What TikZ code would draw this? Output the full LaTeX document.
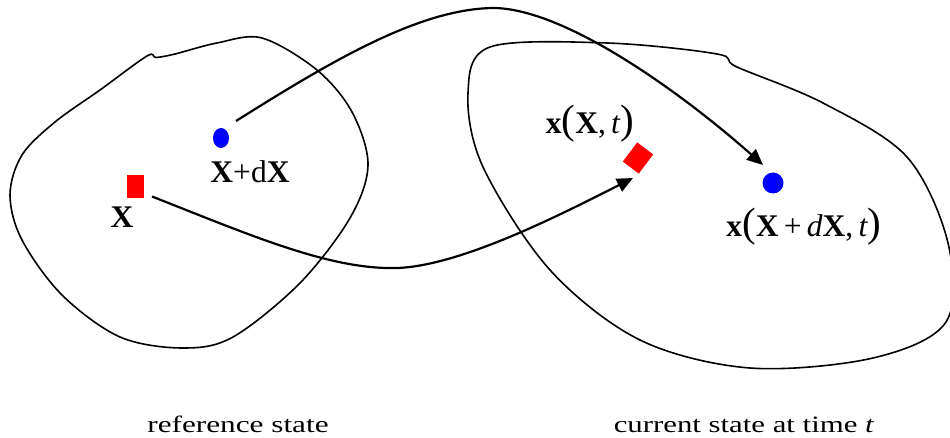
\documentclass[tikz,border=0pt]{standalone}
\usepackage{fontspec}
\usepackage{graphicx}
\setmainfont{Liberation Serif}
\usetikzlibrary{arrows.meta,calc,shapes.geometric}
\newcommand\bigpl{{\fontsize{41}{41}\selectfont(}}
\newcommand\bigpr{{\fontsize{41}{41}\selectfont)}}
\tikzset{
  blob/.style={draw=black, line width=1.6pt},
  arr/.style={draw=black, line width=2.2pt, -{Triangle[length=16pt,width=14pt]}},
  lbl/.style={inner sep=0pt, anchor=base, font=\fontsize{31.5}{36}\selectfont},
  captext/.style={inner sep=0pt, anchor=base, font=\fontsize{23.5}{28}\selectfont},
}
\begin{document}
\begin{tikzpicture}[x=1pt,y=-1pt]
\useasboundingbox (0,0) rectangle (950,438);
% reference configuration
\draw[blob] plot[smooth cycle, tension=0.55] coordinates {
 (147,56) (156,57.5) (175,54) (217,43) (262,38) (317,70) (352,112) (368,165)
 (350,218) (300,283) (233,337) (183,348) (120,337) (62,295) (22,240) (10,195)
 (22,155) (55,122) (100,90)};
% current configuration
\draw[blob] plot[smooth cycle, tension=0.55] coordinates {
 (490,47) (607,43) (717,54) (737,67) (823,103) (907,157) (948,243)
 (946,322) (873,358) (750,368) (640,340) (550,270) (483,167) (468,93)};
% points
\node[fill=red, minimum width=17pt, minimum height=23pt, inner sep=0pt] (sqA) at (135,186.5) {};
\node[fill=blue, ellipse, minimum width=16pt, minimum height=20pt, inner sep=0pt] (dotA) at (221,138) {};
\node[fill=red, minimum width=20pt, minimum height=24pt, inner sep=0pt, rotate=-37] (sqB) at (638,158) {};
\node[fill=blue, circle, minimum size=21pt, inner sep=0pt] (dotB) at (773,183) {};
% labels
\node[lbl] (lX) at (122,228) {\textbf{X}};
\node[lbl] (lXdX) at (250,183) {\textbf{X}+d\textbf{X}};
\node[lbl] (lx) at (590,134) {\textbf{x}\bigpl\textbf{X},\,\textit{t}\bigpr};
\node[lbl] (lxdx) at (804,237) {\textbf{x}\bigpl\textbf{X}\,+\,\textit{d}\textbf{X},\,\textit{t}\bigpr};
\node[captext] (lref) at (238,432) {\scalebox{1.33}[1]{reference state}};
\node[captext] (lcur) at (744,432) {\scalebox{1.31}[1]{current state at time \textit{t}}};
% mappings
\draw[arr] ($(sqA)+(17,10)$) .. controls (250,235) and (330,270) .. (397,268)
  .. controls (460,266) and (560,215) .. ($(sqB)+(-5,20)$);
\draw[arr] ($(dotA)+(15,-17)$) .. controls (330,62) and (420,8) .. (495,8)
  .. controls (570,10) and (690,100) .. ($(dotB)+(-10,-18)$);
\end{tikzpicture}
\end{document}
